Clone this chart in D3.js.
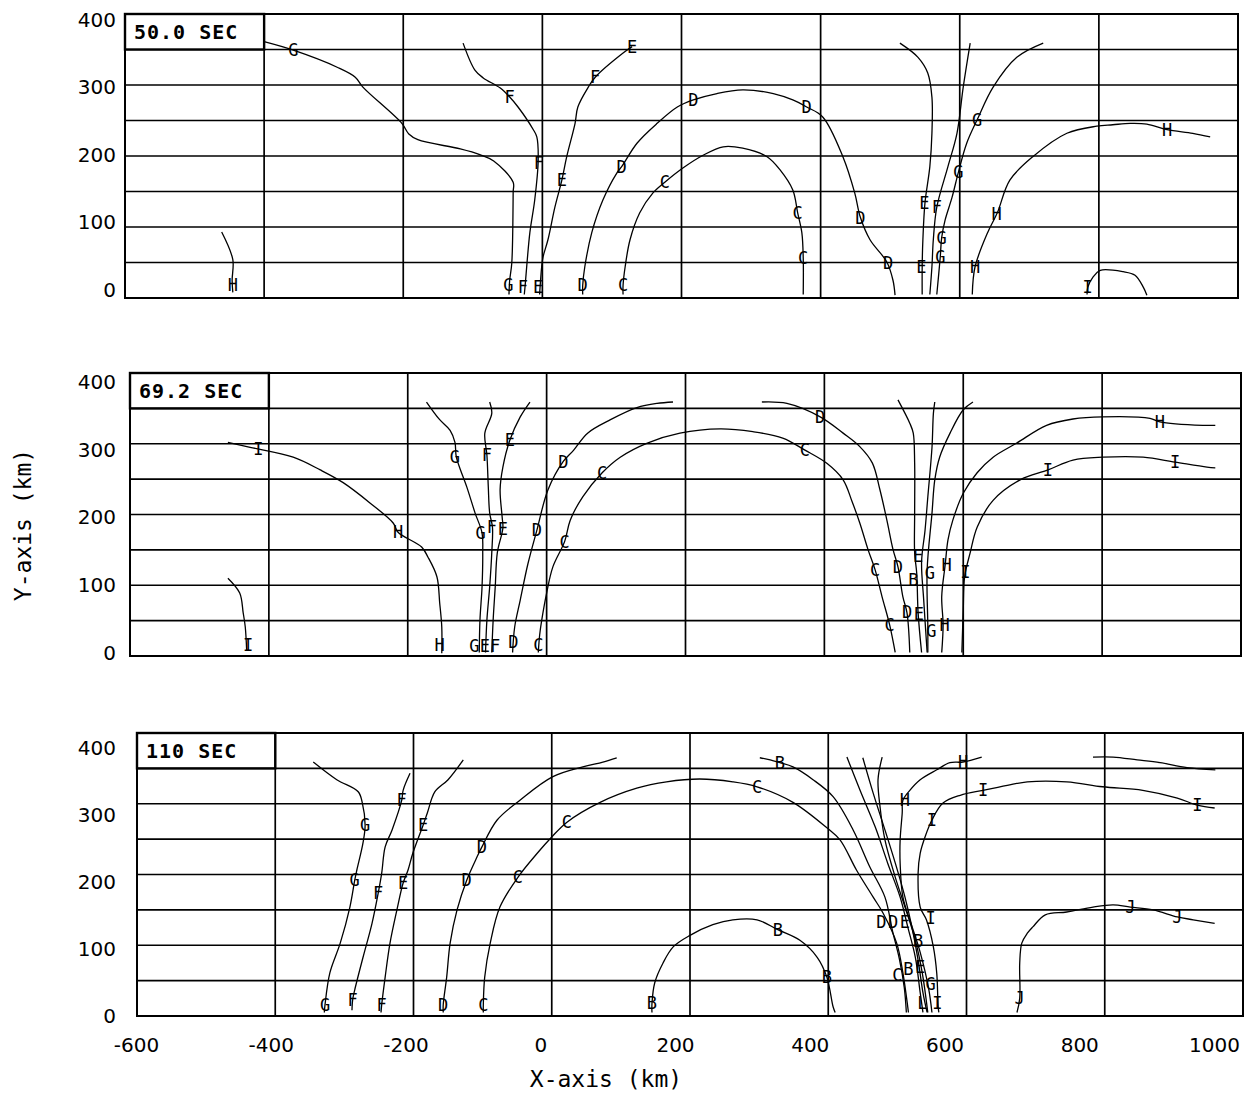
<!DOCTYPE html>
<html><head><meta charset="utf-8">
<script src="https://cdn.jsdelivr.net/npm/d3@7"></script>
<style>body{margin:0;background:#fff}</style>
</head><body>
<svg id="c" width="1251" height="1098"></svg>
<script>
// ---------- DATA ----------
const panelTimes = ["50.0 SEC", "69.2 SEC", "110 SEC"];
const xTicks = [-600, -400, -200, 0, 200, 400, 600, 800, 1000];
const yTicks = [0, 100, 200, 300, 400];
const xGrid = [-400, -200, 0, 200, 400, 600, 800];
const yGrid = [50, 100, 150, 200, 250, 300, 350];

// t = 50.0 s : ray paths [x km, y km]
const t50Curves = [
  [[-400,361],[-358,349],[-295,325],[-269,311],[-258,297],[-202,246],[-192,231],[-179,223],[-118,210],[-90,202],[-70,193],[-42,163],[-42,149],[-44,49],[-47,25],[-48,5]],
  [[-461,93],[-445,54],[-446,25],[-445,8]],
  [[-114,359],[-97,321],[-85,310],[-61,296],[-47,283],[-35,269],[-13,237],[-8,227],[-6,194],[-11,138],[-18,92],[-25,15],[-26,5]],
  [[129,354],[116,345],[76,311],[66,297],[51,269],[47,246],[35,199],[28,166],[18,128],[8,82],[1,58],[-1,44],[-4,5]],
  [[58,5],[58,18],[61,44],[71,92],[87,138],[107,176],[114,185],[136,218],[165,246],[194,269],[217,279],[251,288],[288,293],[332,288],[360,279],[380,269],[403,255],[432,199],[449,148],[457,114],[471,82],[495,51],[504,25],[507,4]],
  [[116,5],[116,18],[119,44],[126,82],[140,120],[159,148],[176,163],[202,183],[231,201],[260,213],[288,211],[323,199],[342,180],[360,152],[367,120],[373,92],[375,56],[375,5]],
  [[514,359],[540,339],[554,317],[560,283],[560,232],[557,185],[550,134],[547,82],[546,44],[546,5]],
  [[615,359],[605,297],[596,232],[583,185],[567,128],[562,82],[560,44],[557,5]],
  [[720,359],[682,339],[648,297],[625,251],[610,218],[598,177],[589,142],[579,110],[574,85],[572,58],[567,5]],
  [[618,5],[622,44],[640,92],[654,120],[672,166],[705,199],[754,232],[797,242],[820,244],[845,246],[869,245],[898,237],[935,232],[960,227]],
  [[783,5],[784,15],[792,30],[802,39],[835,37],[852,32],[864,15],[869,4]]
];
const t50Labels = [
  ["G",-358,349],["G",-49,18],["H",-445,18],["F",-47,283],["F",-5,190],["F",-28,15],
  ["E",129,354],["F",76,311],["E",28,166],["E",-6,15],
  ["D",58,18],["D",114,185],["D",217,279],["D",380,269],["D",457,113],["D",497,49],
  ["C",116,18],["C",176,163],["C",367,120],["C",375,56],
  ["E",549,134],["F",567,129],["E",545,44],["G",572,58],["G",574,84],["G",625,251],["G",598,177],
  ["H",622,44],["H",653,119],["H",898,237],["I",784,15]
];

// t = 69.2 s
const t69Curves = [
  [[-459,302],[-427,295],[-365,281],[-326,263],[-293,245],[-254,216],[-221,188],[-214,175],[-180,154],[-171,140],[-158,112],[-154,75],[-151,41],[-151,4]],
  [[-459,110],[-442,89],[-437,61],[-434,41],[-432,8]],
  [[-173,359],[-154,334],[-139,319],[-132,302],[-130,281],[-115,239],[-103,202],[-93,174],[-92,146],[-93,98],[-96,51],[-97,5]],
  [[-82,359],[-79,343],[-89,315],[-86,284],[-84,239],[-82,202],[-78,182],[-79,146],[-82,98],[-86,51],[-88,5]],
  [[-24,359],[-38,338],[-53,305],[-63,267],[-67,235],[-64,196],[-63,181],[-71,146],[-74,98],[-77,51],[-79,5]],
  [[182,359],[159,357],[130,351],[92,334],[59,315],[39,291],[24,275],[2,235],[-14,178],[-27,130],[-38,79],[-46,41],[-49,5]],
  [[-12,5],[-10,30],[-7,51],[0,89],[9,126],[26,162],[34,192],[52,225],[80,259],[106,281],[145,301],[192,315],[250,321],[297,317],[340,308],[372,291],[404,272],[427,249],[440,218],[451,188],[463,150],[473,122],[483,84],[494,44],[502,5]],
  [[310,359],[346,357],[394,338],[427,315],[451,296],[469,273],[480,235],[490,192],[499,150],[506,126],[513,84],[519,61],[523,5]],
  [[506,362],[523,329],[528,315],[530,273],[530,202],[530,146],[533,117],[535,61],[540,5]],
  [[559,359],[557,343],[555,295],[549,225],[545,178],[540,133],[543,80],[548,5]],
  [[614,359],[600,348],[581,315],[566,281],[559,249],[555,202],[548,122],[549,41],[549,5]],
  [[963,326],[945,326],[883,331],[869,336],[801,338],[758,335],[720,326],[677,301],[643,281],[620,259],[600,230],[585,192],[578,164],[574,129],[569,84],[571,44],[569,5]],
  [[963,266],[951,267],[905,274],[859,281],[801,281],[758,277],[722,263],[682,249],[643,220],[620,182],[610,146],[602,112],[600,65],[598,5]]
];
const t69Labels = [
  ["I",-415,293],["H",-214,176],["H",-154,16],["I",-430,16],
  ["G",-132,281],["G",-95,174],["G",-104,14],["F",-86,284],["F",-79,182],["E",-89,14],["F",-74,14],
  ["E",-53,305],["E",-63,180],["D",24,275],["D",-14,178],["D",-48,20],
  ["C",-12,16],["C",26,162],["C",80,259],["C",372,291],["C",473,122],["C",494,44],
  ["D",394,338],["D",506,126],["D",519,62],
  ["B",528,108],["E",535,141],["G",552,118],["E",536,60],["G",554,36],
  ["H",576,129],["H",573,44],["I",603,119],["H",883,331],["I",905,274],["I",722,263]
];

// t = 110 s
const t110Curves = [
  [[-345,359],[-311,334],[-280,317],[-274,301],[-270,270],[-273,245],[-282,206],[-285,192],[-292,154],[-306,103],[-321,61],[-328,16],[-329,5]],
  [[-205,343],[-215,319],[-217,305],[-231,263],[-241,239],[-246,202],[-251,174],[-260,131],[-273,83],[-285,37],[-288,23],[-289,8]],
  [[-128,362],[-150,334],[-169,317],[-180,287],[-186,270],[-201,230],[-208,206],[-215,188],[-224,150],[-234,103],[-241,55],[-246,16],[-247,5]],
  [[94,365],[74,359],[45,352],[1,338],[-46,305],[-79,277],[-101,239],[-108,225],[-123,192],[-137,150],[-147,103],[-152,55],[-157,16],[-157,5]],
  [[-99,5],[-99,16],[-97,55],[-89,103],[-75,154],[-49,196],[-21,230],[0,253],[22,274],[70,302],[123,322],[166,331],[214,335],[262,331],[297,324],[349,302],[398,266],[417,249],[441,206],[465,168],[479,146],[499,103],[508,61],[515,13],[516,5]],
  [[301,365],[316,362],[330,358],[349,352],[378,334],[407,310],[436,263],[460,211],[482,168],[493,120],[503,80],[510,40],[513,5]],
  [[145,5],[145,18],[149,47],[161,75],[176,98],[200,114],[233,129],[262,136],[297,136],[327,122],[359,107],[384,83],[398,55],[407,13],[410,5]],
  [[427,366],[446,319],[468,267],[486,216],[504,168],[515,126],[526,83],[533,33],[537,5]],
  [[450,365],[465,315],[482,263],[497,216],[511,168],[521,126],[530,79],[537,33],[543,5]],
  [[478,366],[472,334],[475,295],[482,249],[497,196],[511,154],[526,107],[536,61],[544,5]],
  [[622,366],[595,359],[576,358],[557,348],[533,334],[518,319],[508,305],[507,287],[504,249],[504,216],[508,168],[520,130],[533,90],[545,40],[550,5]],
  [[959,294],[934,298],[905,308],[855,319],[797,324],[745,331],[688,331],[659,326],[624,319],[591,312],[566,301],[550,277],[540,253],[533,230],[530,202],[533,154],[542,136],[552,98],[557,60],[559,13],[560,5]],
  [[783,366],[812,366],[847,362],[880,358],[919,351],[960,348]],
  [[673,5],[677,25],[677,75],[680,103],[688,117],[696,126],[714,143],[745,147],[783,154],[812,157],[837,154],[870,150],[905,140],[928,136],[959,131]]
];
const t110Labels = [
  ["G",-270,270],["G",-285,192],["G",-328,16],["F",-217,305],["F",-251,174],["F",-288,23],
  ["E",-186,270],["E",-215,188],["F",-246,16],["D",-101,239],["D",-123,192],["D",-157,16],
  ["C",-99,16],["C",-49,196],["C",22,274],["C",297,324],
  ["B",330,358],["B",145,18],["B",327,122],["B",398,55],
  ["D",477,133],["D",494,133],["E",511,133],["B",530,106],["I",548,138],
  ["C",500,58],["B",516,66],["E",533,70],["G",548,46],["L",536,18],["I",558,18],
  ["H",511,305],["H",595,359],["I",624,319],["I",550,277],["I",934,298],
  ["J",677,25],["J",837,154],["J",905,140]
];

// ---------- DRAW ----------
const svg = d3.select("#c");
const FONT = "DejaVu Sans";
const MONO = "DejaVu Sans Mono";

const panels = [
  {L:125, R:1238, T:14,  B:298,  lt:20,  lb:290,  time:panelTimes[0], curves:t50Curves,  labels:t50Labels},
  {L:130, R:1241, T:373, B:656,  lt:382, lb:653,  time:panelTimes[1], curves:t69Curves,  labels:t69Labels},
  {L:137, R:1243, T:733, B:1016, lt:748, lb:1016, time:panelTimes[2], curves:t110Curves, labels:t110Labels}
];

panels.forEach(p => {
  const x = d3.scaleLinear().domain([-600, 1000]).range([p.L, p.R]);
  const y = d3.scaleLinear().domain([0, 400]).range([p.B, p.T]);
  const g = svg.append("g");

  g.append("g").selectAll("line").data(xGrid).join("line")
    .attr("x1", d => x(d)).attr("x2", d => x(d))
    .attr("y1", y(400)).attr("y2", y(0))
    .attr("stroke", "#000").attr("stroke-width", 1.7);
  g.append("g").selectAll("line").data(yGrid).join("line")
    .attr("x1", x(-600)).attr("x2", x(1000))
    .attr("y1", d => y(d)).attr("y2", d => y(d))
    .attr("stroke", "#000").attr("stroke-width", 1.7);
  g.append("rect")
    .attr("x", x(-600)).attr("y", y(400))
    .attr("width", x(1000) - x(-600)).attr("height", y(0) - y(400))
    .attr("fill", "none").attr("stroke", "#000").attr("stroke-width", 2);

  // time box
  g.append("rect")
    .attr("x", x(-600)).attr("y", y(400))
    .attr("width", x(-400) - x(-600)).attr("height", y(350) - y(400))
    .attr("fill", "#fff").attr("stroke", "#000").attr("stroke-width", 2.4);
  g.append("text")
    .attr("x", x(-600) + 9).attr("y", (y(400) + y(350)) / 2 + 7)
    .attr("font-family", MONO).attr("font-weight", "bold").attr("font-size", 20)
    .attr("letter-spacing", 1).attr("fill", "#000")
    .text(p.time);

  const line = d3.line().x(d => x(d[0])).y(d => y(d[1])).curve(d3.curveCatmullRom.alpha(0.5));
  g.append("g").selectAll("path").data(p.curves).join("path")
    .attr("d", line).attr("fill", "none").attr("stroke", "#000").attr("stroke-width", 1.3);

  g.append("g").selectAll("text").data(p.labels).join("text")
    .attr("x", d => x(d[1])).attr("y", d => y(d[2]))
    .attr("dy", "0.36em").attr("text-anchor", "middle")
    .attr("font-family", MONO).attr("font-size", 17).attr("fill", "#000")
    .text(d => d[0]);

  const ly = d3.scaleLinear().domain([0, 400]).range([p.lb, p.lt]);
  const ga = svg.append("g").attr("transform", "translate(116,0)")
    .call(d3.axisLeft(ly).tickValues(yTicks).tickSize(0).tickPadding(0).tickFormat(d => String(d)));
  ga.select(".domain").remove();
  ga.attr("font-family", FONT).attr("font-size", 20);
  ga.selectAll("text").attr("fill", "#000");
});

const lx = d3.scaleLinear().domain([-600, 1000]).range([136, 1214]);
const gx = svg.append("g").attr("transform", "translate(0,1038)")
  .call(d3.axisBottom(lx).tickValues(xTicks).tickSize(0).tickPadding(0).tickFormat(d => String(d)));
gx.select(".domain").remove();
gx.attr("font-family", FONT).attr("font-size", 20);
gx.selectAll("text").attr("fill", "#000");

svg.append("text").attr("x", 606).attr("y", 1087).attr("text-anchor", "middle")
  .attr("font-family", MONO).attr("font-size", 23).attr("fill", "#000").text("X-axis (km)");
svg.append("text").attr("transform", "translate(31,525) rotate(-90)").attr("text-anchor", "middle")
  .attr("font-family", MONO).attr("font-size", 23).attr("fill", "#000").text("Y-axis (km)");
</script>
</body></html>
